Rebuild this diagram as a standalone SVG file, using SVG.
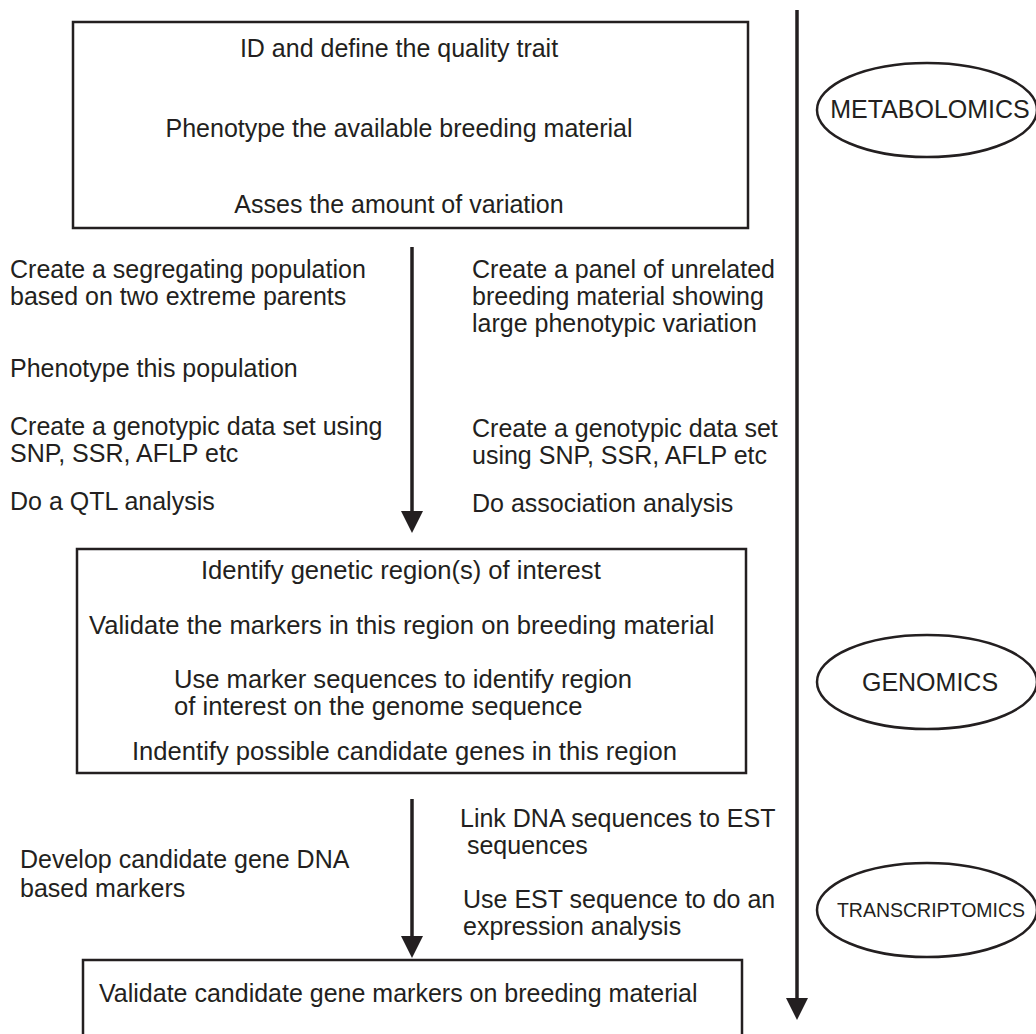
<svg xmlns="http://www.w3.org/2000/svg" width="1036" height="1034" viewBox="0 0 1036 1034">
<style>
.box{fill:#fff;stroke:#231f20;stroke-width:2.5}
.ell{fill:#fff;stroke:#231f20;stroke-width:2.5}
.t{font-family:"Liberation Sans",Arial,sans-serif;font-size:25px;fill:#231f20}
.c{text-anchor:middle}
.sm{font-size:19.5px}
.md{font-size:25.6px}
.conn{stroke:#231f20;stroke-width:3.5;fill:none}
</style>
<defs>
<marker id="ah" viewBox="0 0 22 22" refX="0" refY="11" markerWidth="22" markerHeight="22" markerUnits="userSpaceOnUse" orient="auto">
<path d="M0,0 L22,11 L0,22 z" fill="#231f20"/>
</marker>
</defs>
<rect width="1036" height="1034" fill="#fff"/>
<g id="connectors">
<line class="conn" x1="412" y1="247" x2="412" y2="511" marker-end="url(#ah)"/>
<line class="conn" x1="412" y1="799" x2="412" y2="936" marker-end="url(#ah)"/>
<line class="conn" x1="797" y1="10" x2="797" y2="998" marker-end="url(#ah)"/>
</g>
<g id="box-trait">
<rect class="box" x="73" y="22" width="675" height="206"/>
<text class="t c" x="399" y="57">ID and define the quality trait</text>
<text class="t c" x="399" y="137">Phenotype the available breeding material</text>
<text class="t c" x="399" y="213">Asses the amount of variation</text>
</g>
<g id="left-qtl">
<text class="t" x="10" y="278">Create a segregating population</text>
<text class="t" x="10" y="305">based on two extreme parents</text>
<text class="t" x="10" y="377">Phenotype this population</text>
<text class="t" x="10" y="435">Create a genotypic data set using</text>
<text class="t" x="10" y="462">SNP, SSR, AFLP etc</text>
<text class="t" x="10" y="510">Do a QTL analysis</text>
</g>
<g id="right-association">
<text class="t" x="472" y="278">Create a panel of unrelated</text>
<text class="t" x="472" y="305">breeding material showing</text>
<text class="t" x="472" y="332">large phenotypic variation</text>
<text class="t" x="472" y="437">Create a genotypic data set</text>
<text class="t" x="472" y="464">using SNP, SSR, AFLP etc</text>
<text class="t" x="472" y="512">Do association analysis</text>
</g>
<g id="box-region">
<rect class="box" x="77" y="549" width="669" height="224"/>
<text class="t md" x="201" y="579">Identify genetic region(s) of interest</text>
<text class="t md" x="89" y="634">Validate the markers in this region on breeding material</text>
<text class="t md" x="174" y="688">Use marker sequences to identify region</text>
<text class="t md" x="174" y="715">of interest on the genome sequence</text>
<text class="t md" x="132" y="760">Indentify possible candidate genes in this region</text>
</g>
<g id="left-candidate">
<text class="t" x="20" y="868">Develop candidate gene DNA</text>
<text class="t" x="20" y="897">based markers</text>
</g>
<g id="right-est">
<text class="t" x="460" y="827">Link DNA sequences to EST</text>
<text class="t" x="460" y="854" xml:space="preserve"> sequences</text>
<text class="t" x="463" y="908">Use EST sequence to do an</text>
<text class="t" x="463" y="935">expression analysis</text>
</g>
<g id="box-validate">
<rect class="box" x="83" y="960" width="659" height="120"/>
<text class="t" x="99" y="1002">Validate candidate gene markers on breeding material</text>
</g>
<g id="metabolomics">
<ellipse class="ell" cx="927" cy="110" rx="110" ry="47"/>
<text class="t c" x="930" y="118">METABOLOMICS</text>
</g>
<g id="genomics">
<ellipse class="ell" cx="927" cy="682" rx="110" ry="47"/>
<text class="t c" x="930" y="691">GENOMICS</text>
</g>
<g id="transcriptomics">
<ellipse class="ell" cx="927" cy="910" rx="110" ry="47"/>
<text class="t c sm" x="931" y="917">TRANSCRIPTOMICS</text>
</g>
</svg>
